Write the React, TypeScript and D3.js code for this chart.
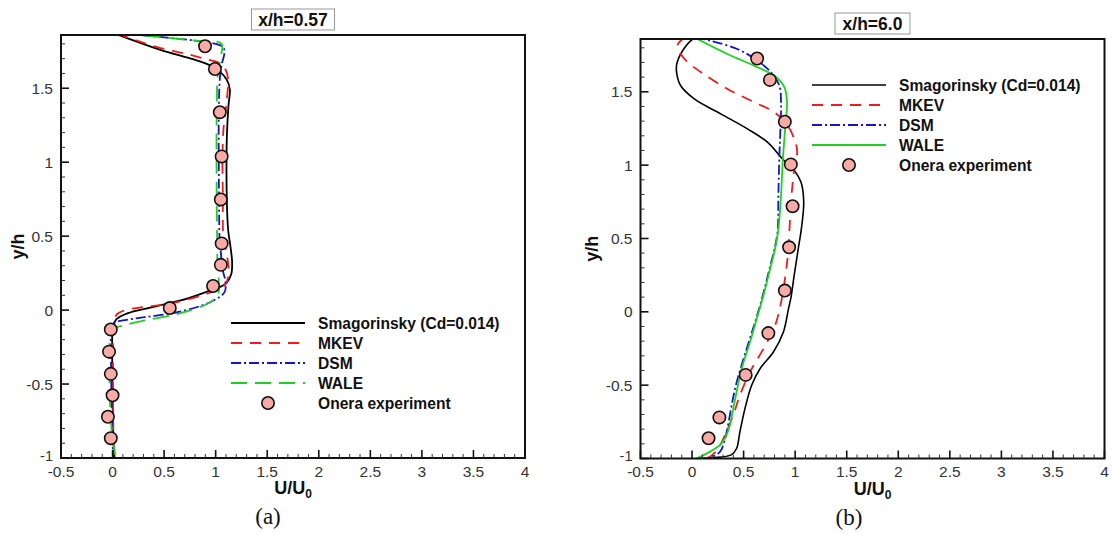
import React from "react";
import * as d3 from "d3";

type P = [number, number];

// ---------- Panel (a): x/h = 0.57 ----------
const smagA: P[] = [[0.02,1.87],[0.16,1.834],[0.47,1.758],[0.76,1.7],[0.93,1.66],[1.04,1.612],[1.11,1.555],[1.138,1.49],[1.125,1.39],[1.11,1.2],[1.105,1.0],[1.108,0.75],[1.12,0.55],[1.145,0.42],[1.16,0.32],[1.15,0.24],[1.1,0.18],[1.0,0.145],[0.89,0.118],[0.66,0.065],[0.4,0.022],[0.15,-0.02],[0.04,-0.06],[0.005,-0.11],[-0.003,-0.3],[0.0,-0.6],[0.01,-0.9],[0.02,-1]];
const mkevA: P[] = [[0.05,1.87],[0.2,1.83],[0.45,1.775],[0.7,1.735],[0.9,1.698],[1.03,1.672],[1.1,1.62],[1.12,1.56],[1.105,1.4],[1.075,1.22],[1.066,1.0],[1.07,0.77],[1.075,0.5],[1.11,0.37],[1.125,0.25],[1.09,0.17],[0.95,0.12],[0.6,0.05],[0.3,0.02],[0.14,0.002],[0.04,-0.03],[0.01,-0.1],[0.005,-0.3],[0.005,-0.6],[0.01,-0.9],[0.015,-1]];
const dsmA: P[] = [[0.1,1.87],[0.48,1.845],[0.8,1.822],[1.0,1.8],[1.075,1.775],[1.085,1.74],[1.055,1.65],[1.04,1.56],[1.03,1.33],[1.03,1.0],[1.032,0.77],[1.04,0.45],[1.05,0.39],[1.065,0.28],[1.095,0.19],[1.085,0.12],[0.95,0.055],[0.63,-0.014],[0.31,-0.048],[0.1,-0.07],[0.02,-0.085],[-0.01,-0.13],[-0.015,-0.3],[-0.01,-0.6],[0.0,-0.9],[0.01,-1]];
const waleA: P[] = [[0.08,1.87],[0.48,1.845],[0.8,1.822],[1.057,1.8],[1.045,1.7],[1.02,1.584],[1.01,1.335],[1.01,0.77],[1.015,0.45],[1.018,0.3],[1.03,0.2],[1.02,0.1],[0.92,0.043],[0.633,-0.025],[0.313,-0.07],[0.1,-0.105],[0.0,-0.13],[-0.025,-0.2],[-0.03,-0.5],[-0.01,-0.8],[0.03,-1]];
const expA_U = [0.897,0.993,1.04,1.058,1.05,1.058,1.05,0.975,0.555,-0.017,-0.034,-0.017,0.0,-0.045,-0.017];
const expA_Y = [1.784,1.63,1.338,1.039,0.748,0.451,0.306,0.163,0.014,-0.131,-0.281,-0.431,-0.576,-0.721,-0.866];

// ---------- Panel (b): x/h = 6.0 ----------
const smagB: P[] = [[0.025,1.87],[-0.06,1.813],[-0.145,1.7],[-0.15,1.632],[-0.11,1.541],[0.025,1.45],[0.283,1.348],[0.541,1.246],[0.734,1.155],[0.863,1.053],[0.928,1.008],[0.992,0.963],[1.057,0.883],[1.083,0.747],[1.06,0.566],[1.03,0.43],[0.99,0.247],[0.96,0.1],[0.935,0.02],[0.886,-0.138],[0.789,-0.274],[0.659,-0.388],[0.578,-0.501],[0.513,-0.66],[0.464,-0.819],[0.432,-0.932],[0.38,-0.975],[0.2,-0.995],[0.04,-1]];
const mkevB: P[] = [[-0.07,1.87],[-0.14,1.82],[-0.12,1.77],[-0.056,1.711],[0.089,1.632],[0.347,1.518],[0.605,1.428],[0.799,1.36],[0.928,1.269],[1.0,1.16],[1.02,1.09],[0.995,1.0],[0.976,0.883],[0.96,0.747],[0.945,0.566],[0.935,0.43],[0.915,0.3],[0.87,0.088],[0.805,-0.093],[0.692,-0.252],[0.562,-0.41],[0.464,-0.569],[0.399,-0.705],[0.318,-0.841],[0.253,-0.932],[0.172,-0.989],[0.12,-1]];
const dsmB: P[] = [[0.03,1.87],[0.186,1.847],[0.444,1.79],[0.637,1.711],[0.766,1.632],[0.847,1.541],[0.863,1.428],[0.857,1.246],[0.847,1.065],[0.837,0.793],[0.83,0.55],[0.8,0.43],[0.75,0.29],[0.686,0.111],[0.62,-0.05],[0.55,-0.206],[0.47,-0.388],[0.425,-0.501],[0.39,-0.615],[0.355,-0.75],[0.32,-0.864],[0.27,-0.955],[0.17,-0.995],[0.08,-1]];
const waleB: P[] = [[0.025,1.87],[0.347,1.756],[0.605,1.677],[0.799,1.609],[0.896,1.53],[0.921,1.428],[0.902,1.246],[0.879,1.02],[0.863,0.793],[0.835,0.55],[0.805,0.43],[0.756,0.29],[0.692,0.111],[0.627,-0.048],[0.562,-0.206],[0.481,-0.388],[0.432,-0.546],[0.399,-0.66],[0.367,-0.773],[0.318,-0.864],[0.269,-0.909],[0.172,-0.955],[0.042,-1]];
const expB_U = [0.631,0.755,0.9,0.958,0.975,0.941,0.9,0.74,0.52,0.265,0.16];
const expB_Y = [1.727,1.581,1.296,1.005,0.72,0.44,0.145,-0.145,-0.43,-0.72,-0.862];

// ---------- axes ----------
const xDomain: [number, number] = [-0.5, 4];
const yDomain: [number, number] = [-1, 1.86];
const xTickValues = [-0.5, 0, 0.5, 1, 1.5, 2, 2.5, 3, 3.5, 4];
const xTickLabels = ["-0.5", "0", "0.5", "1", "1.5", "2", "2.5", "3", "3.5", "4"];
const yTickValues = [-1, -0.5, 0, 0.5, 1, 1.5];
const yTickLabels = ["-1", "-0.5", "0", "0.5", "1", "1.5"];
const legendNames = ["Smagorinsky (Cd=0.014)", "MKEV", "DSM", "WALE", "Onera experiment"];

const SANS = "'Liberation Sans', Arial, sans-serif";
const MARKER_FILL = "#f7aaa6";

interface Style { color: string; dash: string | null; width: number }

interface PanelProps {
  id: string;
  left: number; right: number; top: number; bottom: number;
  title: string; titleW: number;
  caption: string; captionX: number;
  yLabelX: number;
  series: P[][];
  styles: Style[];
  expU: number[]; expY: number[];
  legendX: number; legendY: number;
}

function Panel(p: PanelProps) {
  const x = d3.scaleLinear().domain(xDomain).range([p.left, p.right]);
  const y = d3.scaleLinear().domain(yDomain).range([p.bottom, p.top]);
  const line = d3.line<P>().x(d => x(d[0])).y(d => y(d[1])).curve(d3.curveCatmullRom.alpha(0.5));
  const minorX = d3.range(-5, 41).map(i => i / 10).filter(v => Math.abs(v * 2 - Math.round(v * 2)) > 1e-6);
  const minorY = d3.range(-10, 19).map(i => i / 10).filter(v => Math.abs(v * 2 - Math.round(v * 2)) > 1e-6);
  const cx = (p.left + p.right) / 2;
  const clipId = "clip-" + p.id;
  const legLineX0 = p.legendX;
  const legLineX1 = p.legendX + 74;
  const legTextX = p.legendX + 87;
  return (
    <g>
      <defs>
        <clipPath id={clipId}>
          <rect x={p.left} y={p.top} width={p.right - p.left} height={p.bottom - p.top} />
        </clipPath>
      </defs>
      {/* title box */}
      <rect x={cx - p.titleW / 2} y={p.top - 26} width={p.titleW} height={21} fill="white" stroke="#999" strokeWidth={1} />
      <text x={cx} y={p.top - 9.5} textAnchor="middle" fontFamily={SANS} fontWeight="bold" fontSize={17.5} fill="#111">{p.title}</text>

      {/* curves */}
      <g clipPath={`url(#${clipId})`}>
        {p.series.map((s, i) => (
          <path key={i} d={line(s) || ""} fill="none" stroke={p.styles[i].color} strokeWidth={p.styles[i].width}
            strokeDasharray={p.styles[i].dash || undefined} />
        ))}
      </g>
      {/* markers */}
      {p.expU.map((u, i) => (
        <circle key={i} cx={x(u)} cy={y(p.expY[i])} r={6.2} fill={MARKER_FILL} stroke="#111" strokeWidth={1.6} />
      ))}

      {/* frame */}
      <rect x={p.left} y={p.top} width={p.right - p.left} height={p.bottom - p.top} fill="none" stroke="#111" strokeWidth={2} />
      {/* ticks */}
      {xTickValues.map(v => (
        <line key={"xM" + v} x1={x(v)} x2={x(v)} y1={p.bottom} y2={p.bottom - 8} stroke="#111" strokeWidth={1.6} />
      ))}
      {minorX.map(v => (
        <line key={"xm" + v} x1={x(v)} x2={x(v)} y1={p.bottom} y2={p.bottom - 4} stroke="#333" strokeWidth={1} />
      ))}
      {yTickValues.map(v => (
        <line key={"yM" + v} x1={p.left} x2={p.left + 8} y1={y(v)} y2={y(v)} stroke="#111" strokeWidth={1.6} />
      ))}
      {minorY.map(v => (
        <line key={"ym" + v} x1={p.left} x2={p.left + 4} y1={y(v)} y2={y(v)} stroke="#333" strokeWidth={1} />
      ))}
      {/* tick labels */}
      {xTickValues.map((v, i) => (
        <text key={"xl" + v} x={x(v)} y={p.bottom + 18.5} textAnchor="middle" fontFamily={SANS} fontSize={15.5} fill="#333">{xTickLabels[i]}</text>
      ))}
      {yTickValues.map((v, i) => (
        <text key={"yl" + v} x={p.left - 8} y={y(v) + (i === 0 ? 2.5 : 5.5)} textAnchor="end" fontFamily={SANS}
          fontSize={i === 0 ? 14.5 : 15.5} fill="#333">{yTickLabels[i]}</text>
      ))}
      {/* axis titles */}
      <text x={cx} y={p.bottom + 36} textAnchor="middle" fontFamily={SANS} fontWeight="bold" fontSize={18} fill="#111">
        U/U<tspan fontSize={12} dy={4}>0</tspan>
      </text>
      <text transform={`translate(${p.yLabelX},${(p.top + p.bottom) / 2}) rotate(-90)`} textAnchor="middle"
        fontFamily={SANS} fontWeight="bold" fontSize={18} fill="#111">y/h</text>
      <text x={p.captionX} y={p.bottom + 66} textAnchor="middle" fontFamily="'Liberation Serif', serif" fontSize={23} fill="#111">{p.caption}</text>

      {/* legend */}
      {legendNames.map((name, i) => {
        const ly = p.legendY + i * 20;
        return (
          <g key={name}>
            {i < 4 ? (
              <line x1={legLineX0} x2={legLineX1} y1={ly} y2={ly} stroke={p.styles[i].color} strokeWidth={p.styles[i].width}
                strokeDasharray={p.styles[i].dash || undefined} />
            ) : (
              <circle cx={(legLineX0 + legLineX1) / 2} cy={ly} r={6.2} fill={MARKER_FILL} stroke="#111" strokeWidth={1.6} />
            )}
            <text x={legTextX} y={ly + 5.5} fontFamily={SANS} fontWeight="bold" fontSize={15.6} fill="#111">{name}</text>
          </g>
        );
      })}
    </g>
  );
}

const stylesA: Style[] = [
  { color: "#000000", dash: null, width: 1.8 },
  { color: "#ee1c1c", dash: "11,8", width: 1.8 },
  { color: "#1414c8", dash: "10,3,2,3", width: 1.8 },
  { color: "#22cc22", dash: "16,8", width: 1.8 },
];
const stylesB: Style[] = [
  { color: "#000000", dash: null, width: 1.6 },
  { color: "#ee1c1c", dash: "11,8", width: 1.8 },
  { color: "#1414c8", dash: "10,3,2,3", width: 1.8 },
  { color: "#1fd21f", dash: null, width: 1.8 },
];

export default function App() {
  return (
    <svg width={1112} height={534} style={{ position: "absolute", left: 0, top: 0, background: "white" }}>
      <rect width={1112} height={534} fill="white" />
      <Panel id="a" left={61} right={525} top={35} bottom={458} title="x/h=0.57" titleW={83} caption="(a)" captionX={268}
        yLabelX={24} series={[smagA, mkevA, dsmA, waleA]} styles={stylesA} expU={expA_U} expY={expA_Y}
        legendX={231} legendY={323} />
      <Panel id="b" left={640.5} right={1104.5} top={39} bottom={458.5} title="x/h=6.0" titleW={75} caption="(b)" captionX={849}
        yLabelX={598} series={[smagB, mkevB, dsmB, waleB]} styles={stylesB} expU={expB_U} expY={expB_Y}
        legendX={812} legendY={85} />
    </svg>
  );
}
